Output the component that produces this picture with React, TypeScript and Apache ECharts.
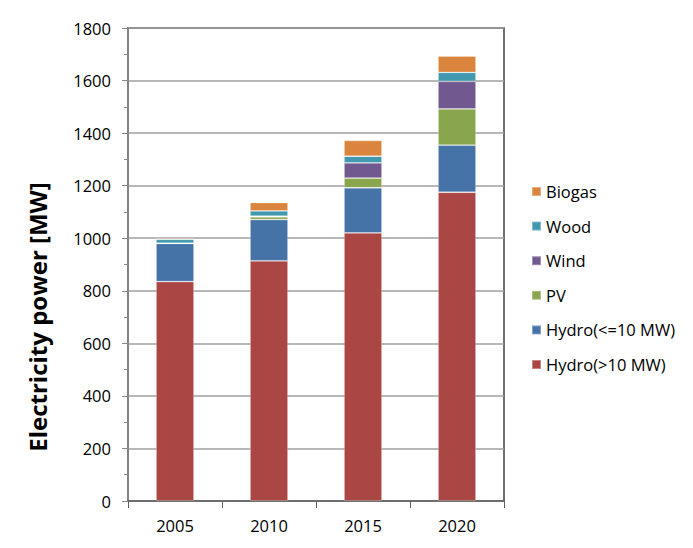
import React, { useEffect, useRef } from "react";
import * as echarts from "echarts";

const categories = ["2005", "2010", "2015", "2020"];
const hydroLarge = [835, 914, 1020, 1175];
const hydroSmall = [145, 157, 172, 179];
const pv = [1, 10, 37, 138];
const wind = [0, 3, 58, 105];
const wood = [15, 20, 25, 34];
const biogas = [4, 32, 60, 62];

const seriesNames = ["Hydro(>10 MW)", "Hydro(<=10 MW)", "PV", "Wind", "Wood", "Biogas"];
const seriesValues = [hydroLarge, hydroSmall, pv, wind, wood, biogas];
const seriesColors = ["#AA4643", "#4572A7", "#89A54E", "#71588F", "#4198AF", "#DB843D"];

const yAxisTitle = "Electricity power [MW]";
const FONT = "'Open Sans', 'Liberation Sans', sans-serif";

export default function App() {
  const ref = useRef<HTMLDivElement>(null);
  useEffect(() => {
    document.body.style.overflow = "hidden";
    const chart = echarts.init(ref.current!, null, { renderer: "svg" });
    chart.setOption({
      animation: false,
      textStyle: { fontFamily: FONT },
      grid: {
        left: 120,
        top: 20,
        width: 376,
        height: 473,
        show: true,
        borderColor: "#404040",
        borderWidth: 1.5,
        containLabel: false,
      },
      graphic: [
        {
          type: "text",
          x: 29,
          y: 309,
          rotation: Math.PI / 2,
          style: {
            text: yAxisTitle,
            font: `bold 24px ${FONT}`,
            fill: "#000",
            align: "center",
            verticalAlign: "middle",
          },
        },
      ],
      legend: {
        orient: "vertical",
        left: 518,
        top: 170,
        itemWidth: 9,
        itemHeight: 9,
        itemGap: 17.6,
        icon: "rect",
        data: [...seriesNames].reverse(),
        textStyle: { fontSize: 16.5, color: "#000", fontFamily: FONT, lineHeight: 17 },
      },
      xAxis: {
        type: "category",
        data: categories,
        axisLine: { lineStyle: { color: "#606060", width: 1.5 } },
        axisTick: { show: true, length: 7, inside: false, alignWithLabel: false, lineStyle: { color: "#606060" } },
        axisLabel: { color: "#000", fontSize: 16.5, margin: 16, fontFamily: FONT },
        splitLine: { show: false },
      },
      yAxis: {
        type: "value",
        min: 0,
        max: 1800,
        interval: 200,
        axisLine: { show: true, lineStyle: { color: "#888888", width: 1.5 } },
        axisTick: { show: true, length: 6, lineStyle: { color: "#888888" } },
        minorTick: { show: true, splitNumber: 2, length: 4, lineStyle: { color: "#888888" } },
        axisLabel: { color: "#000", fontSize: 16.5, margin: 17, fontFamily: FONT, formatter: (v: number) => String(v) },
        splitLine: { show: true, lineStyle: { color: "#A0A0A0", width: 1.5 } },
      },
      series: seriesNames.map((name, i) => ({
        name,
        type: "bar",
        stack: "total",
        data: seriesValues[i],
        barWidth: 38,
        itemStyle: { color: seriesColors[i], borderColor: "rgba(255,255,255,0.35)", borderWidth: 0.8 },
      })),
    });
    return () => chart.dispose();
  }, []);
  return (
    <div
      ref={ref}
      style={{
        width: 685,
        height: 540,
        marginLeft: -1,
        marginTop: -1,
        borderLeft: "1px solid #8c8c8c",
        borderTop: "1px solid #8c8c8c",
        background: "#fff",
      }}
    />
  );
}
